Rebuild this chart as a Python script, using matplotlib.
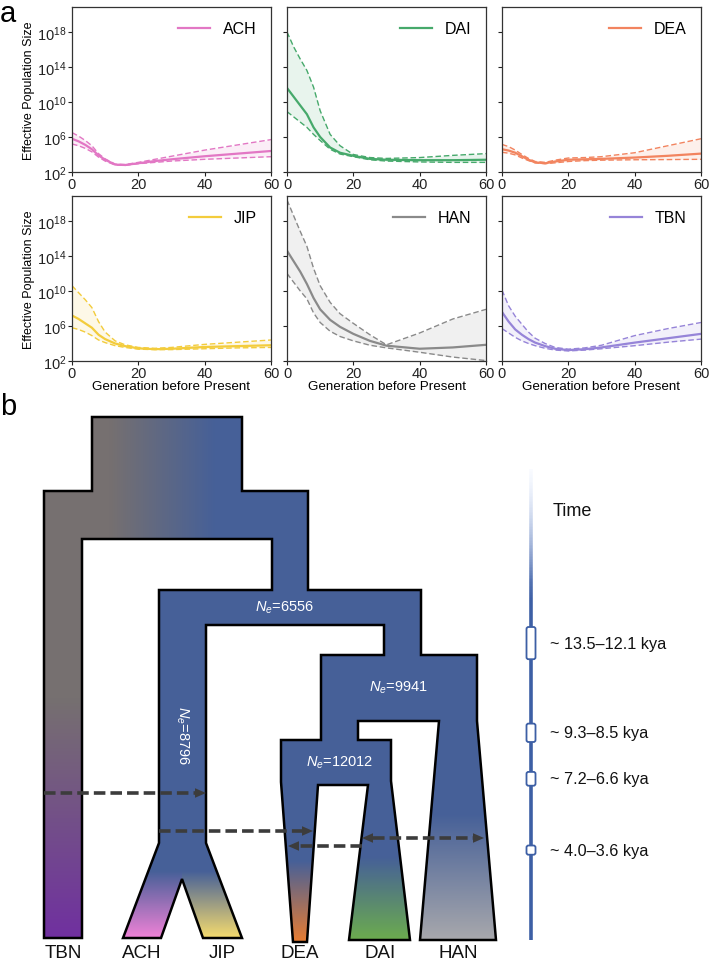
import numpy as np
import matplotlib
matplotlib.use("Agg")
import matplotlib.pyplot as plt
from matplotlib.patches import Polygon, FancyBboxPatch
from matplotlib.collections import LineCollection
from matplotlib.ticker import FixedLocator, NullLocator, LogFormatterSciNotation

plt.rcParams['font.family'] = ['Liberation Sans', 'DejaVu Sans']
plt.rcParams['mathtext.fontset'] = 'custom'
plt.rcParams['mathtext.rm'] = 'Liberation Sans'
plt.rcParams['mathtext.it'] = 'Liberation Sans:italic'
plt.rcParams['mathtext.bf'] = 'Liberation Sans:bold'

# ---------------- data: panel a (log10 effective population size) ----------------
generations = [0, 2, 4, 6, 8, 10, 13, 16, 20, 25, 30, 40, 50, 60]
populations = ["ACH", "DAI", "DEA", "JIP", "HAN", "TBN"]
pop_colors = ["#E277C4", "#46A96B", "#F2845F", "#F3CC3C", "#8A8A8A", "#9684D8"]

ach_mean = [5.8, 5.5, 5.1, 4.6, 3.9, 3.4, 2.85, 2.8, 3.0, 3.25, 3.45, 3.8, 4.1, 4.4]
ach_up   = [6.5, 6.1, 5.6, 5.0, 4.1, 3.5, 2.9, 2.85, 3.1, 3.45, 3.8, 4.5, 5.1, 5.7]
ach_lo   = [5.2, 5.0, 4.7, 4.3, 3.7, 3.25, 2.8, 2.75, 2.95, 3.1, 3.25, 3.45, 3.6, 3.75]

dai_mean = [11.6, 10.6, 9.6, 8.6, 7.1, 6.0, 4.8, 4.2, 3.85, 3.5, 3.4, 3.35, 3.35, 3.4]
dai_up   = [18.0, 16.3, 14.9, 13.6, 11.7, 9.0, 6.3, 5.0, 4.0, 3.65, 3.55, 3.65, 3.9, 4.1]
dai_lo   = [8.9, 8.3, 7.7, 7.1, 6.3, 5.6, 4.6, 4.05, 3.75, 3.4, 3.25, 3.15, 3.1, 3.1]

dea_mean = [4.6, 4.45, 4.2, 3.8, 3.4, 3.1, 3.0, 3.2, 3.4, 3.45, 3.5, 3.65, 3.85, 4.1]
dea_up   = [5.15, 4.9, 4.5, 4.0, 3.55, 3.2, 3.1, 3.35, 3.6, 3.65, 3.75, 4.2, 5.0, 5.8]
dea_lo   = [4.25, 4.15, 3.95, 3.6, 3.3, 3.05, 2.95, 3.05, 3.2, 3.3, 3.35, 3.4, 3.42, 3.45]

jip_mean = [7.2, 6.8, 6.3, 5.8, 5.0, 4.5, 4.0, 3.7, 3.45, 3.35, 3.4, 3.6, 3.7, 3.8]
jip_up   = [10.6, 9.8, 9.0, 8.1, 6.5, 5.3, 4.3, 3.85, 3.55, 3.45, 3.55, 3.9, 4.15, 4.4]
jip_lo   = [5.8, 5.6, 5.3, 4.9, 4.4, 4.1, 3.75, 3.55, 3.35, 3.3, 3.3, 3.4, 3.5, 3.55]

han_mean = [14.6, 13.4, 12.2, 10.8, 9.2, 7.9, 6.7, 5.9, 5.1, 4.3, 3.75, 3.4, 3.55, 3.85]
han_up   = [20.4, 18.6, 16.8, 15.1, 12.6, 10.6, 8.7, 7.4, 6.3, 5.0, 3.85, 5.2, 6.8, 7.9]
han_lo   = [12.0, 11.0, 10.0, 9.1, 7.5, 6.4, 5.4, 4.8, 4.3, 3.8, 3.5, 3.0, 2.45, 2.05]

tbn_mean = [7.6, 6.5, 5.6, 5.0, 4.5, 4.1, 3.7, 3.4, 3.25, 3.35, 3.55, 4.1, 4.6, 5.1]
tbn_up   = [10.1, 8.3, 7.1, 6.2, 5.3, 4.6, 4.0, 3.55, 3.35, 3.5, 3.8, 4.9, 5.7, 6.4]
tbn_lo   = [5.7, 5.2, 4.7, 4.3, 4.0, 3.75, 3.45, 3.25, 3.15, 3.25, 3.4, 3.75, 4.15, 4.5]

series = {
    "ACH": (ach_mean, ach_up, ach_lo),
    "DAI": (dai_mean, dai_up, dai_lo),
    "DEA": (dea_mean, dea_up, dea_lo),
    "JIP": (jip_mean, jip_up, jip_lo),
    "HAN": (han_mean, han_up, han_lo),
    "TBN": (tbn_mean, tbn_up, tbn_lo),
}

y_ticks = [1e2, 1e6, 1e10, 1e14, 1e18]
x_ticks = [0, 20, 40, 60]

# ---------------- data: panel b ----------------
leaf_labels = ["TBN", "ACH", "JIP", "DEA", "DAI", "HAN"]
ne_labels = ["6556", "9941", "12012", "8796"]
time_ranges = [(13.5, 12.1), (9.3, 8.5), (7.2, 6.6), (4.0, 3.6)]

W, H = 712, 962
fig = plt.figure(figsize=(W / 100, H / 100), dpi=100)

def fx(px):
    return px / W

def fy(py):
    return 1 - py / H

col_x = [72, 287, 502]
row_y = [(8, 173), (197, 362)]
axw = 199
for i, pop in enumerate(populations):
    r, c = divmod(i, 3)
    top, bot = row_y[r]
    ax = fig.add_axes([fx(col_x[c]), fy(bot), axw / W, (bot - top) / H])
    m, u, l = series[pop]
    col = pop_colors[i]
    g = np.array(generations)
    m = 10 ** np.array(m); u = 10 ** np.array(u); l = 10 ** np.array(l)
    ax.fill_between(g, l, u, color=col, alpha=0.12, lw=0)
    ax.plot(g, u, color=col, lw=1.0, ls=(0, (4, 2)))
    ax.plot(g, l, color=col, lw=1.0, ls=(0, (4, 2)))
    ax.plot(g, m, color=col, lw=1.6, label=pop)
    ax.set_yscale('log')
    ax.set_ylim(1e2, 10 ** 20.85)
    ax.set_xlim(0, 60)
    ax.yaxis.set_major_locator(FixedLocator(y_ticks))
    ax.yaxis.set_minor_locator(NullLocator())
    ax.yaxis.set_major_formatter(LogFormatterSciNotation())
    ax.set_xticks(x_ticks)
    ax.tick_params(labelsize=10.5, length=3.2, width=0.8, colors='#222222', pad=0.5)
    for s in ax.spines.values():
        s.set_color('#333333'); s.set_linewidth(0.9)
    if c == 0:
        ax.set_ylabel("Effective Population Size", fontsize=9, labelpad=2)
    else:
        ax.set_yticklabels([])
    if r == 1:
        ax.set_xlabel("Generation before Present", fontsize=9.6, labelpad=0)
    ax.legend(loc='upper right', frameon=False, fontsize=11.5, handlelength=2.0,
              borderaxespad=0.5, handletextpad=0.8)

fig.text(fx(0), fy(0), "a", fontsize=21, va='top', ha='left')
fig.text(fx(0), fy(393), "b", fontsize=21, va='top', ha='left')

# ---------------- panel b: tree ----------------
axb = fig.add_axes([0, 0, 1, 1], zorder=-1)
axb.set_xlim(0, W)
axb.set_ylim(H, 0)
axb.axis('off')

outline = [(92, 418), (242, 418), (242, 492), (308, 492), (308, 591), (421, 591),
           (421, 656), (477, 656), (477, 722), (496, 941), (420, 941), (439, 722),
           (358, 722), (358, 741), (391, 741), (391, 782), (410, 941), (349, 941),
           (368, 786), (318, 786), (307, 943), (293, 943), (281, 783), (281, 741),
           (321, 741), (321, 656), (384, 656), (384, 626), (206, 626), (206, 844),
           (242, 939), (203, 939), (182, 880), (161, 939), (123, 939), (159, 844),
           (159, 591), (272, 591), (272, 540), (82, 540), (82, 939), (44, 939),
           (44, 492), (92, 492)]

blue = np.array([70, 96, 152]) / 255
gray = np.array([118, 112, 112]) / 255
purple = np.array([112, 48, 160]) / 255
pink = np.array([240, 130, 215]) / 255
yellow = np.array([246, 220, 110]) / 255
orange = np.array([232, 125, 50]) / 255
green = np.array([108, 172, 78]) / 255
lgray = np.array([168, 168, 172]) / 255

X0, X1, Y0, Y1 = 40, 500, 412, 948
xs = np.arange(X0, X1) + 0.5
ys = np.arange(Y0, Y1) + 0.5
XX, YY = np.meshgrid(xs, ys)
img = np.empty(XX.shape + (3,))
img[:] = blue

def blend(mask, c0, c1, t):
    t = np.clip(t, 0, 1)[..., None]
    mix = c0 * (1 - t) + c1 * t
    img[mask] = mix[mask]

blend(YY < 545, gray, blue, (XX - 110) / (215 - 110))
blend((XX < 90) & (YY >= 545), gray, purple, (YY - 700) / (939 - 700))
blend((XX > 100) & (XX < 182) & (YY > 850), blue, pink, (YY - 872) / (939 - 872))
blend((XX >= 182) & (XX < 250) & (YY > 850), blue, yellow, (YY - 872) / (939 - 872))
blend((XX > 275) & (XX < 330) & (YY > 850), blue, orange, (YY - 862) / (943 - 862))
blend((XX > 340) & (XX < 414) & (YY > 850), blue, green, (YY - 858) / (941 - 858))
blend((XX >= 414) & (YY > 800), blue, lgray, (YY - 815) / (941 - 815))

poly = Polygon(outline, closed=True, facecolor='none', edgecolor='black', lw=1.8,
               joinstyle='miter', zorder=3)
axb.add_patch(poly)
im = axb.imshow(img, extent=(X0, X1, Y1, Y0), interpolation='bilinear', zorder=2,
                aspect='auto')
im.set_clip_path(poly)
axb.set_xlim(0, W); axb.set_ylim(H, 0)

leaf_x = [63, 142, 222, 300, 380, 458]
for lab, x in zip(leaf_labels, leaf_x):
    axb.text(x, 945, lab, fontsize=13.5, ha='center', va='top', color='#111111')

ne_pos = [(285, 608, 0), (398, 688, 0), (340, 763, 0), (182, 736, -90)]
for lab, (x, y, rot) in zip(ne_labels, ne_pos):
    axb.text(x, y, r"$N_e$=" + lab, color='white', fontsize=10.5, ha='center',
             va='center', rotation=rot, zorder=5)

# migration arrows: (x_start, x_end, y, double)
arrows = [(44, 206, 794, False), (159, 313, 832, False), (362, 288, 847, False),
          (362, 484, 839, True)]
acol = '#3C3C3C'
hl, hw = 11, 4.8
for xs_, xe_, y, dbl in arrows:
    d = 1 if xe_ > xs_ else -1
    a0 = xs_ + (d * hl if dbl else 0)
    a1 = xe_ - d * hl
    axb.plot([a0, a1], [y, y], color=acol, lw=2.6, ls=(0, (3.2, 1.4)),
             solid_capstyle='butt', dash_capstyle='butt', zorder=6)
    heads = [(xe_, d)] + ([(xs_, -d)] if dbl else [])
    for tip, dd in heads:
        axb.add_patch(Polygon([(tip, y), (tip - dd * hl, y - hw), (tip - dd * hl, y + hw)],
                              closed=True, color=acol, lw=0, zorder=6))

# time axis
tx = 531
def kya_to_px(k):
    return 938.5 - 23.0 * k

ty0, ty1 = 470, 941
yy = np.linspace(ty0, ty1, 300)
segs = [[(tx, yy[i]), (tx, yy[i + 1])] for i in range(len(yy) - 1)]
tline = np.array([61, 95, 165]) / 255
cols = []
for i in range(len(yy) - 1):
    a = np.clip((yy[i] - ty0) / (600 - ty0), 0, 1)
    c = tline * a + np.array([0.85, 0.9, 1.0]) * (1 - a)
    cols.append((*c, min(1, 0.15 + a)))
axb.add_collection(LineCollection(segs, colors=cols, linewidths=2.6, zorder=4))
axb.text(572, 512, "Time", fontsize=13, ha='center', va='center', color='#111111')

for hi, lo in time_ranges:
    y0, y1 = kya_to_px(hi), kya_to_px(lo)
    axb.add_patch(FancyBboxPatch((tx - 4.5, y0), 9, y1 - y0,
                                 boxstyle="round,pad=0,rounding_size=2",
                                 facecolor='white', edgecolor='#3D5FA5', lw=1.3, zorder=5))
    axb.text(550, (y0 + y1) / 2, f"~ {hi}\u2013{lo} kya", fontsize=11.7, ha='left',
             va='center', color='#111111')

fig.savefig("out.png", dpi=100)
